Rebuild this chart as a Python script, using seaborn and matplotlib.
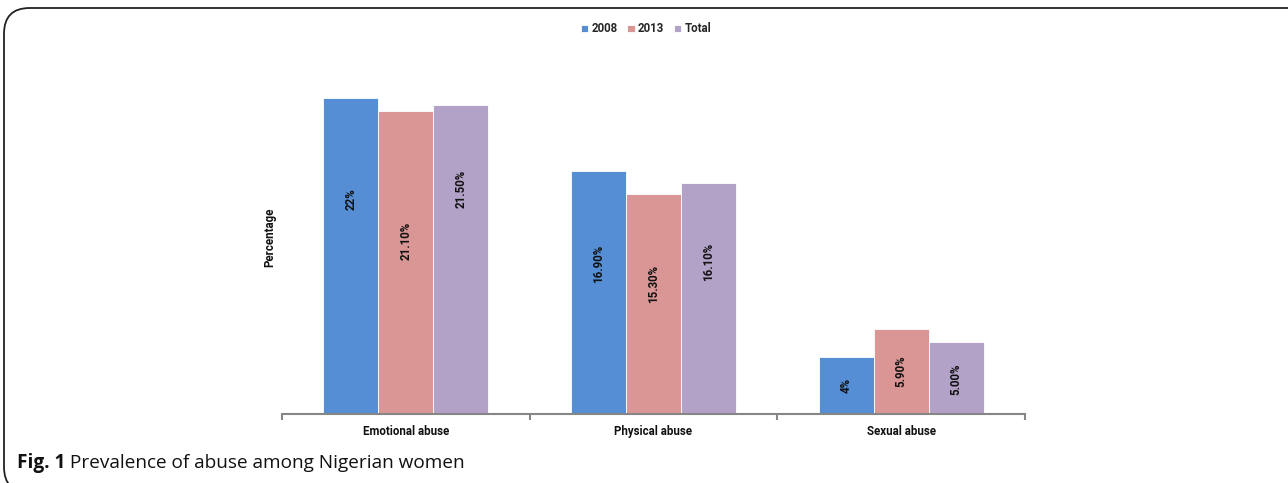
import matplotlib
matplotlib.use("Agg")
import matplotlib.pyplot as plt
from matplotlib.patches import FancyBboxPatch
import seaborn as sns
import pandas as pd

categories = ["Emotional abuse", "Physical abuse", "Sexual abuse"]
series = ["2008", "2013", "Total"]
values_2008 = [22.0, 16.9, 4.0]
values_2013 = [21.1, 15.3, 5.9]
values_total = [21.5, 16.1, 5.0]
labels_2008 = ["22%", "16.90%", "4%"]
labels_2013 = ["21.10%", "15.30%", "5.90%"]
labels_total = ["21.50%", "16.10%", "5.00%"]
# fraction of each bar's height where its value label sits
label_frac_2008 = [0.68, 0.62, 0.50]
label_frac_2013 = [0.57, 0.59, 0.50]
label_frac_total = [0.73, 0.66, 0.48]

colors = ["#558ED5", "#D99694", "#B3A2C7"]

df = pd.DataFrame({
    "category": categories * 3,
    "series": [s for s in series for _ in categories],
    "value": values_2008 + values_2013 + values_total,
})

sns.set_theme(style="white")
plt.rcParams["font.family"] = ["Roboto", "DejaVu Sans"]

TXT = "#111111"
FS = 8.3
fig = plt.figure(figsize=(12.88, 4.83), dpi=100)
ax = fig.add_axes([282 / 1288, 1 - 414 / 483, 743 / 1288, 354 / 483])

sns.barplot(data=df, x="category", y="value", hue="series", order=categories,
            hue_order=series, palette=colors, saturation=1, width=0.667, gap=0,
            edgecolor="white", linewidth=0.6, ax=ax, legend=True)

ax.set_xlim(-0.5, 2.5)
ax.set_ylim(0, 24.65)

all_labels = [labels_2008, labels_2013, labels_total]
all_fracs = [label_frac_2008, label_frac_2013, label_frac_total]
for cont, labs, fracs in zip(ax.containers, all_labels, all_fracs):
    for bar, lab, fr in zip(cont, labs, fracs):
        x = bar.get_x() + bar.get_width() / 2
        h = bar.get_height()
        ax.text(x, h * fr, lab, rotation=90, ha="center", va="center",
                fontsize=FS, fontweight="bold", color=TXT)

for side in ["top", "right", "left"]:
    ax.spines[side].set_visible(False)
ax.spines["bottom"].set_color("#868686")
ax.spines["bottom"].set_linewidth(1.5)
ax.set_yticks([])
ax.set_xticks([0, 1, 2])
ax.set_xticklabels(categories, fontsize=FS, fontweight="bold", color=TXT)
ax.tick_params(axis="x", which="major", length=0, pad=8)
ax.set_xticks([-0.5, 0.5, 1.5, 2.5], minor=True)
ax.tick_params(axis="x", which="minor", length=4, width=1.5, color="#868686",
               direction="out", bottom=True)
ax.set_xlabel("")
ax.set_ylabel("Percentage", fontsize=FS, fontweight="bold", color=TXT,
              labelpad=4)

handles, labs = ax.get_legend_handles_labels()
ax.legend(handles, labs, loc="center", bbox_to_anchor=(646 / 1288, 1 - 29 / 483),
          bbox_transform=fig.transFigure, ncol=3, frameon=False,
          handlelength=0.65, handleheight=0.65, handletextpad=0.3,
          columnspacing=0.8, prop={"size": FS, "weight": "bold"})

# rounded frame around the whole figure
frame = FancyBboxPatch((4 / 1288, -0.02), 1.02 - 4 / 1288, 1 - 8 / 483 + 0.02,
                       boxstyle="round,pad=0,rounding_size=0.02",
                       transform=fig.transFigure, fill=False,
                       edgecolor="#222222", linewidth=1.3, mutation_aspect=1288 / 483)
fig.patches.append(frame)

t1 = fig.text(17 / 1288, 1 - 463 / 483, "Fig. 1", fontsize=13.7, fontweight="bold",
              va="center", ha="left", color=TXT, family=["Open Sans", "DejaVu Sans"])
fig.canvas.draw()
ax.annotate(" Prevalence of abuse among Nigerian women", xy=(1, 0.5),
            xycoords=t1, va="center", ha="left", fontsize=13.7, color=TXT,
            family=["Open Sans", "DejaVu Sans"], annotation_clip=False)

fig.savefig("out.png", dpi=100)
